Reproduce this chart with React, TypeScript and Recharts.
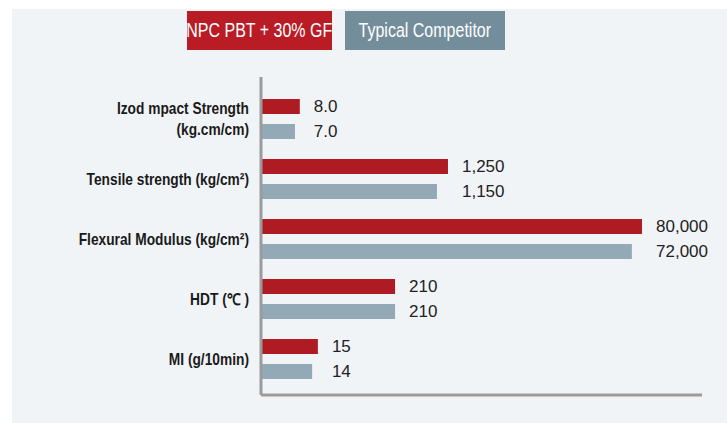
import { BarChart, Bar, XAxis, YAxis, Legend, LabelList } from 'recharts';

const categories = [
  'Izod mpact Strength\n(kg.cm/cm)',
  'Tensile strength (kg/cm²)',
  'Flexural Modulus (kg/cm²)',
  'HDT (℃ )',
  'MI (g/10min)',
];
const npcLabels = ['8.0', '1,250', '80,000', '210', '15'];
const competitorLabels = ['7.0', '1,150', '72,000', '210', '14'];
// bar lengths as drawn in the picture (not to scale with the values), in % of the axis
const npcLengths = [8.8, 42.4, 86.4, 30.4, 12.9];
const competitorLengths = [7.7, 39.9, 84.1, 30.4, 11.6];

const seriesNames = ['NPC PBT + 30% GF', 'Typical Competitor'];
const legendColors = ['#b91c24', '#748d9b'];
const legendWidths = [145, 160];

const rows = categories.map((category, i) => ({
  category,
  npc: npcLengths[i],
  competitor: competitorLengths[i],
  npcLabel: npcLabels[i],
  competitorLabel: competitorLabels[i],
}));

const SANS = "'Liberation Sans', Arial, sans-serif";
const BAR_SIZE = 15;
const BAR_GAP = 10;

// the original uses a condensed bold face; squeeze Liberation Sans instead
const CategoryTick = ({ x, y, payload }: any) => {
  const lines = String(payload.value).split('\n');
  const step = 21;
  const start = -((lines.length - 1) * step) / 2;
  return (
    <g transform={`translate(${x},${y}) scale(0.86,1)`}>
      <text textAnchor="end" fill="#1a1a1a" fontFamily={SANS} fontWeight="bold" fontSize={16}>
        {lines.map((line, i) => (
          <tspan key={i} x={0} y={start + i * step} dominantBaseline="central">
            {line}
          </tspan>
        ))}
      </text>
    </g>
  );
};

// both value labels start just past the NPC bar
const valueLabel = (shift: number) => (props: any) => {
  const { x, y, width, height, value } = props;
  return (
    <text
      x={Number(x) + Number(width) + 14}
      y={Number(y) + Number(height) / 2 + shift}
      dominantBaseline="central"
      fill="#222"
      fontFamily={SANS}
      fontSize={17}
    >
      {value}
    </text>
  );
};

const LegendBoxes = () => (
  <div style={{ display: 'flex', gap: 13 }}>
    {seriesNames.map((name, i) => (
      <div
        key={name}
        style={{
          background: legendColors[i],
          color: '#fff',
          height: 39,
          width: legendWidths[i],
          flexShrink: 0,
          display: 'flex',
          alignItems: 'center',
          justifyContent: 'center',
          whiteSpace: 'nowrap',
          fontFamily: SANS,
          fontSize: 20,
        }}
      >
        <span style={{ display: 'inline-block', flexShrink: 0, transform: 'scaleX(0.8)' }}>{name}</span>
      </div>
    ))}
  </div>
);

export default function App() {
  return (
    <div style={{ position: 'absolute', left: 0, top: 0, width: 727, height: 423, background: '#fff' }}>
      <div style={{ position: 'absolute', left: 12, top: 9, right: 0, bottom: 0, background: '#f1f4f7' }} />
      <div style={{ position: 'absolute', left: 0, top: 0 }}>
        <BarChart
          width={727}
          height={423}
          data={rows}
          layout="vertical"
          barGap={BAR_GAP}
          margin={{ top: 77, right: 25, bottom: 27, left: 0 }}
        >
          <XAxis
            type="number"
            domain={[0, 100]}
            height={1}
            tick={false}
            tickLine={false}
            axisLine={{ stroke: '#9b9b9b', strokeWidth: 3 }}
          />
          <YAxis
            type="category"
            dataKey="category"
            width={261}
            padding={{ top: 12, bottom: 6 }}
            tickLine={false}
            tickSize={0}
            tickMargin={12}
            tick={<CategoryTick />}
            axisLine={{ stroke: '#9b9b9b', strokeWidth: 3 }}
            interval={0}
          />
          <Legend
            layout="horizontal"
            verticalAlign="middle"
            align="center"
            wrapperStyle={{ top: 11, left: 187, width: 330 }}
            content={<LegendBoxes />}
          />
          <Bar dataKey="npc" name={seriesNames[0]} fill="#ae1b23" barSize={BAR_SIZE} isAnimationActive={false}>
            <LabelList dataKey="npcLabel" content={valueLabel(0)} />
            <LabelList dataKey="competitorLabel" content={valueLabel(BAR_SIZE + BAR_GAP)} />
          </Bar>
          <Bar dataKey="competitor" name={seriesNames[1]} fill="#93a9b5" barSize={BAR_SIZE} isAnimationActive={false} />
        </BarChart>
      </div>
    </div>
  );
}
